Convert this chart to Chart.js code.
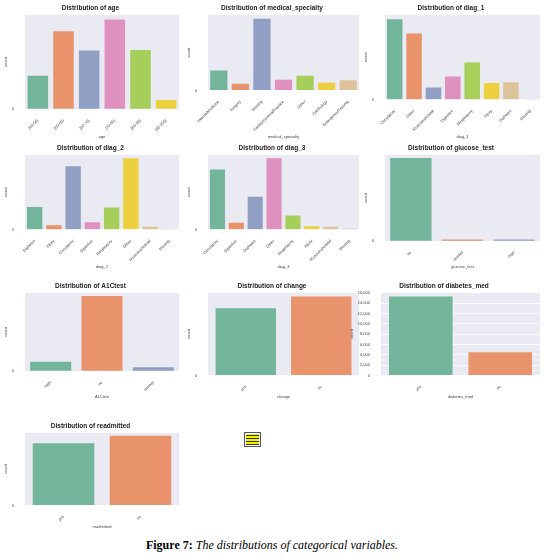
<!DOCTYPE html>
<html>
<head>
<meta charset="UTF-8" />
<script src="https://cdn.jsdelivr.net/npm/chart.js@4.4.0/dist/chart.umd.min.js"></script>
<style>
  body { margin: 0; background: #fff; font-family: "Liberation Sans", Arial, sans-serif; }
  .page { position: relative; width: 544px; height: 560px; }
  .panel { position: absolute; }
  .note { position: absolute; left: 244px; top: 432px; width: 17px; height: 15px; background: #f2f200; border: 1px solid #555;
    background-image: repeating-linear-gradient(#f2f200 0 2px, #333 2px 3px); background-clip: content-box; padding: 1px; box-sizing: border-box; }
  .caption { position: absolute; left: 0; width: 544px; top: 538px; text-align: center; font-family: "Liberation Serif", serif; font-size: 12px; }
</style>
</head>
<body>
<div class="page">
  <div class="panel" style="left:0;top:0"><canvas id="c0" width="183" height="140"></canvas></div>
  <div class="panel" style="left:183px;top:0"><canvas id="c1" width="180" height="140"></canvas></div>
  <div class="panel" style="left:360px;top:0"><canvas id="c2" width="184" height="140"></canvas></div>
  <div class="panel" style="left:0;top:140px"><canvas id="c3" width="183" height="130"></canvas></div>
  <div class="panel" style="left:183px;top:140px"><canvas id="c4" width="180" height="130"></canvas></div>
  <div class="panel" style="left:360px;top:140px"><canvas id="c5" width="184" height="130"></canvas></div>
  <div class="panel" style="left:0;top:278px"><canvas id="c6" width="183" height="122"></canvas></div>
  <div class="panel" style="left:183px;top:278px"><canvas id="c7" width="180" height="122"></canvas></div>
  <div class="panel" style="left:346px;top:278px"><canvas id="c8" width="198" height="122"></canvas></div>
  <div class="panel" style="left:0;top:418px"><canvas id="c9" width="183" height="112"></canvas></div>
  <div class="note"></div>
  <div class="caption"><b>Figure 7:</b> <i>The distributions of categorical variables.</i></div>
</div>
<script>
  const palette = ["#73b59b", "#e8936b", "#919fc5", "#de90bf", "#a5ce5b", "#edd03f", "#dcc39a", "#b3b3b3"];

  const ageLabels = ["[40-50)", "[50-60)", "[60-70)", "[70-80)", "[80-90)", "[90-100)"];
  const ageCounts = [2030, 4700, 3550, 5420, 3580, 560];

  const specialtyLabels = ["InternalMedicine", "Surgery", "Missing", "Family/GeneralPractice", "Other", "Cardiology", "Emergency/Trauma"];
  const specialtyCounts = [2750, 900, 9850, 1450, 2000, 1050, 1400];

  const diag1Labels = ["Circulatory", "Other", "Musculoskeletal", "Digestive", "Respiratory", "Injury", "Diabetes", "Missing"];
  const diag1Counts = [6250, 5150, 950, 1800, 2900, 1300, 1350, 5];

  const diag2Labels = ["Diabetes", "Injury", "Circulatory", "Digestive", "Respiratory", "Other", "Musculoskeletal", "Missing"];
  const diag2Counts = [2300, 450, 6450, 750, 2250, 7250, 300, 20];

  const diag3Labels = ["Circulatory", "Digestive", "Diabetes", "Other", "Respiratory", "Injury", "Musculoskeletal", "Missing"];
  const diag3Counts = [6100, 700, 3350, 7250, 1450, 350, 300, 100];

  const glucoseLabels = ["no", "normal", "high"];
  const glucoseCounts = [18800, 400, 350];

  const a1cLabels = ["high", "no", "normal"];
  const a1cCounts = [2100, 16800, 850];

  const changeLabels = ["yes", "no"];
  const changeCounts = [9100, 10700];

  const medLabels = ["yes", "no"];
  const medCounts = [15300, 4500];

  const readmitLabels = ["yes", "no"];
  const readmitCounts = [9400, 10550];

  // gray plot background like seaborn darkgrid
  const bgPlugin = {
    id: "bg",
    beforeDraw(chart) {
      const a = chart.chartArea, ctx = chart.ctx;
      ctx.save();
      ctx.fillStyle = "#eaeaf2";
      ctx.fillRect(a.left, a.top, a.right - a.left, a.bottom - a.top);
      ctx.restore();
    }
  };

  function countPlot(id, name, labels, counts, yMax, step) {
    new Chart(document.getElementById(id), {
      type: "bar",
      data: {
        labels: labels,
        datasets: [{ data: counts, backgroundColor: palette.slice(0, labels.length), categoryPercentage: 1, barPercentage: 0.8 }]
      },
      options: {
        responsive: false,
        animation: false,
        layout: { padding: { left: 2, right: 4, top: 0, bottom: 0 } },
        plugins: {
          legend: { display: false },
          tooltip: { enabled: false },
          title: { display: true, text: "Distribution of " + name, color: "#222", font: { size: 6.5, weight: "bold" }, padding: { top: 4, bottom: 3 } }
        },
        scales: {
          x: {
            grid: { display: false },
            border: { display: false },
            ticks: { color: "#444", font: { size: 4 }, minRotation: 45, maxRotation: 45, padding: 1 },
            title: { display: true, text: name, color: "#444", font: { size: 4 }, padding: 1 }
          },
          y: {
            min: 0, max: yMax,
            afterBuildTicks: (axis) => { axis.ticks = axis.ticks.filter(t => t.value % step === 0); },
            grid: { color: "#fff", lineWidth: 0.8 },
            border: { display: false },
            ticks: { stepSize: step, color: "#444", font: { size: 4 }, padding: 3 },
            title: { display: true, text: "count", color: "#444", font: { size: 4 }, padding: 1 }
          }
        }
      },
      plugins: [bgPlugin]
    });
  }

  countPlot("c0", "age", ageLabels, ageCounts, 5700, 1000);
  countPlot("c1", "medical_specialty", specialtyLabels, specialtyCounts, 10400, 2000);
  countPlot("c2", "diag_1", diag1Labels, diag1Counts, 6600, 1000);
  countPlot("c3", "diag_2", diag2Labels, diag2Counts, 7600, 1000);
  countPlot("c4", "diag_3", diag3Labels, diag3Counts, 7600, 1000);
  countPlot("c5", "glucose_test", glucoseLabels, glucoseCounts, 19500, 2500);
  countPlot("c6", "A1Ctest", a1cLabels, a1cCounts, 17500, 2000);
  countPlot("c7", "change", changeLabels, changeCounts, 11200, 2000);
  countPlot("c8", "diabetes_med", medLabels, medCounts, 16000, 2000);
  countPlot("c9", "readmitted", readmitLabels, readmitCounts, 11000, 2000);
</script>
</body>
</html>
